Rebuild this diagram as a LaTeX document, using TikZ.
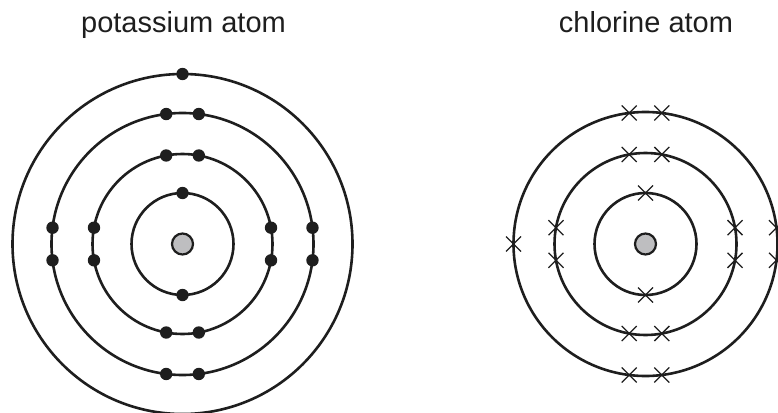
\documentclass[tikz,border=0pt]{standalone}
\usepackage{fontspec}
\setmainfont{Liberation Sans}
\usetikzlibrary{calc}
\definecolor{NucleusGrey}{RGB}{190, 190, 192}
\definecolor{ShellBlack}{RGB}{30, 30, 30}

\begin{document}
\begin{tikzpicture}[x=1pt, y=-1pt,
        shell/.style={line width=2.6pt, ShellBlack},
        nucleus/.style={line width=2.2pt, ShellBlack, fill=NucleusGrey},
        crossline/.style={line width=1.3pt, ShellBlack},
        atomlabel/.style={anchor=base, inner sep=0pt, font=\fontsize{29}{34}\selectfont, ShellBlack}]

        % Constants
        \def\gap{16.3}    % half distance between paired electrons
        \def\dotr{6.2pt}  % electron dot radius
        \def\arm{7.5}     % half size of a cross

        \useasboundingbox (0,0) rectangle (778,412);

        \coordinate (KCentre) at (182.5, 244);
        \coordinate (ClCentre) at (645.5, 244);

        % Labels
        \node[atomlabel] (KLabel) at (183.5, 33) {potassium atom};
        \node[atomlabel] (ClLabel) at (646, 33) {chlorine atom};

        % --- POTASSIUM (2,8,8,1) ---
        \foreach \r in {51, 90, 131, 170} {
            \draw[shell] (KCentre) circle (\r pt);
        }
        \draw[nucleus] (KCentre) circle (10.5pt);

        % first shell
        \fill[ShellBlack] ($(KCentre)+(0,-51)$) circle (\dotr);
        \fill[ShellBlack] ($(KCentre)+(0,51)$) circle (\dotr);

        % second and third shells: four pairs each
        \foreach \r in {90, 131} {
            \pgfmathsetmacro{\h}{sqrt(\r-\gap)*sqrt(\r+\gap)}
            \foreach \sx in {-1, 1} {
                \foreach \sy in {-1, 1} {
                    \fill[ShellBlack] ($(KCentre)+({\sx*\gap},{\sy*\h})$) circle (\dotr);
                    \fill[ShellBlack] ($(KCentre)+({\sx*\h},{\sy*\gap})$) circle (\dotr);
                }
            }
        }

        % outer shell
        \fill[ShellBlack] ($(KCentre)+(0,-170)$) circle (\dotr);

        % --- CHLORINE (2,8,7) ---
        \foreach \r in {51, 91, 132} {
            \draw[shell] (ClCentre) circle (\r pt);
        }
        \draw[nucleus] (ClCentre) circle (10.5pt);

        % first shell
        \foreach \sy in {-1, 1} {
            \draw[crossline] ($(ClCentre)+(0,{\sy*51})$) ++(-\arm,-\arm) -- ++(2*\arm,2*\arm) ++(-2*\arm,0) -- ++(2*\arm,-2*\arm);
        }

        % second shell: four pairs
        \pgfmathsetmacro{\h}{sqrt(91-\gap)*sqrt(91+\gap)}
        \foreach \sx in {-1, 1} {
            \foreach \sy in {-1, 1} {
                \draw[crossline] ($(ClCentre)+({\sx*\gap},{\sy*\h})$) ++(-\arm,-\arm) -- ++(2*\arm,2*\arm) ++(-2*\arm,0) -- ++(2*\arm,-2*\arm);
                \draw[crossline] ($(ClCentre)+({\sx*\h},{\sy*\gap})$) ++(-\arm,-\arm) -- ++(2*\arm,2*\arm) ++(-2*\arm,0) -- ++(2*\arm,-2*\arm);
            }
        }

        % outer shell: top, bottom and right pairs, one on the left
        \pgfmathsetmacro{\h}{sqrt(132-\gap)*sqrt(132+\gap)}
        \foreach \sy in {-1, 1} {
            \foreach \sx in {-1, 1} {
                \draw[crossline] ($(ClCentre)+({\sx*\gap},{\sy*\h})$) ++(-\arm,-\arm) -- ++(2*\arm,2*\arm) ++(-2*\arm,0) -- ++(2*\arm,-2*\arm);
            }
            \draw[crossline] ($(ClCentre)+({\h},{\sy*\gap})$) ++(-\arm,-\arm) -- ++(2*\arm,2*\arm) ++(-2*\arm,0) -- ++(2*\arm,-2*\arm);
        }
        \draw[crossline] ($(ClCentre)+(-132,0)$) ++(-\arm,-\arm) -- ++(2*\arm,2*\arm) ++(-2*\arm,0) -- ++(2*\arm,-2*\arm);

\end{tikzpicture}
\end{document}
